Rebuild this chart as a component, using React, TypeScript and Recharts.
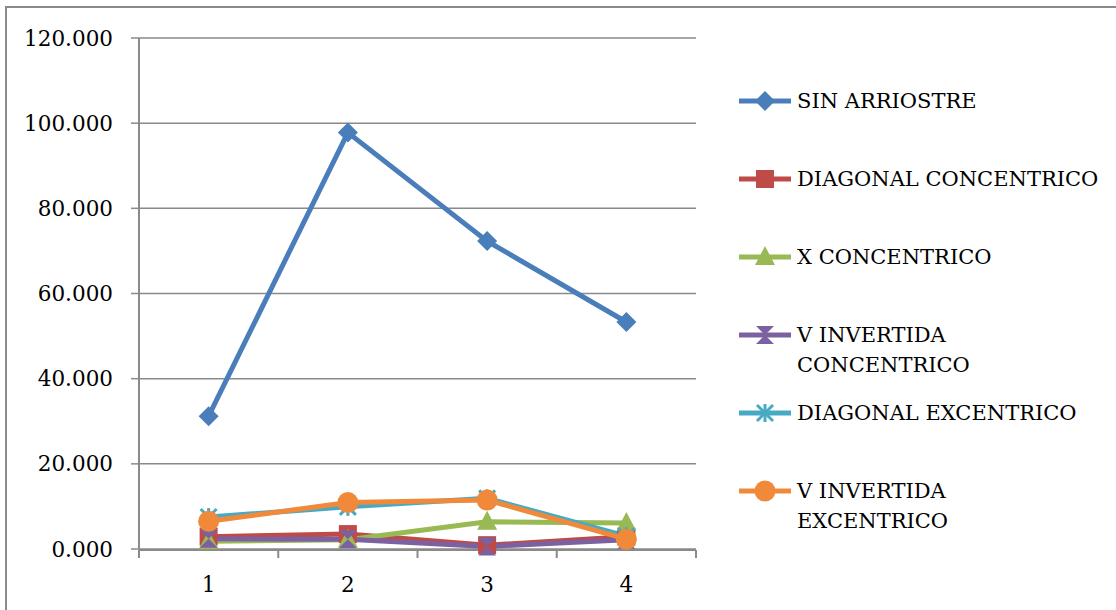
import { LineChart, Line, XAxis, YAxis, CartesianGrid } from 'recharts';

const categories = [1, 2, 3, 4];
const edgeTicks = [0.5, 1.5, 2.5, 3.5, 4.5];
const yTicks = [0, 20, 40, 60, 80, 100, 120];

const sinArriostre = [31.2, 97.8, 72.3, 53.3];
const diagonalConcentrico = [2.9, 3.5, 0.9, 2.9];
const xConcentrico = [1.8, 2.2, 6.4, 6.1];
const vInvertidaConcentrico = [2.4, 2.3, 0.6, 2.2];
const diagonalExcentrico = [7.5, 9.9, 11.9, 3.0];
const vInvertidaExcentrico = [6.5, 10.9, 11.5, 2.3];

const FONT = '"DejaVu Serif", serif';

type Marker = 'diamond' | 'square' | 'triangle' | 'bowtie' | 'star' | 'circle';

const series: { key: string; name: string; color: string; marker: Marker; values: number[] }[] = [
  { key: 'sin', name: 'SIN ARRIOSTRE', color: '#4A7EBB', marker: 'diamond', values: sinArriostre },
  { key: 'dc', name: 'DIAGONAL CONCENTRICO', color: '#BE4B48', marker: 'square', values: diagonalConcentrico },
  { key: 'xc', name: 'X CONCENTRICO', color: '#98B954', marker: 'triangle', values: xConcentrico },
  { key: 'vic', name: 'V INVERTIDA CONCENTRICO', color: '#7D60A0', marker: 'bowtie', values: vInvertidaConcentrico },
  { key: 'de', name: 'DIAGONAL EXCENTRICO', color: '#46AAC5', marker: 'star', values: diagonalExcentrico },
  { key: 'vie', name: 'V INVERTIDA EXCENTRICO', color: '#F08A3A', marker: 'circle', values: vInvertidaExcentrico },
];

const data = categories.map((c, i) => {
  const row: Record<string, number> = { x: c };
  series.forEach((s) => {
    row[s.key] = s.values[i];
  });
  return row;
});

const drawMarker = (m: Marker, cx: number, cy: number, color: string, key?: string | number) => {
  switch (m) {
    case 'diamond':
      return <polygon key={key} points={`${cx},${cy - 10} ${cx + 10},${cy} ${cx},${cy + 10} ${cx - 10},${cy}`} fill={color} />;
    case 'square':
      return <rect key={key} x={cx - 9} y={cy - 9} width={18} height={18} fill={color} />;
    case 'triangle':
      return <polygon key={key} points={`${cx},${cy - 11} ${cx + 10},${cy + 8} ${cx - 10},${cy + 8}`} fill={color} />;
    case 'bowtie':
      return (
        <polygon
          key={key}
          points={`${cx - 9},${cy - 9} ${cx + 9},${cy - 9} ${cx},${cy} ${cx + 9},${cy + 9} ${cx - 9},${cy + 9} ${cx},${cy}`}
          fill={color}
        />
      );
    case 'star':
      return (
        <g key={key} stroke={color} strokeWidth={3}>
          <line x1={cx - 8} y1={cy - 8} x2={cx + 8} y2={cy + 8} />
          <line x1={cx - 8} y1={cy + 8} x2={cx + 8} y2={cy - 8} />
          <line x1={cx} y1={cy - 9} x2={cx} y2={cy + 9} />
        </g>
      );
    default:
      return <circle key={key} cx={cx} cy={cy} r={10.5} fill={color} />;
  }
};

const ChartLegend = () => (
  <div style={{ position: 'absolute', left: 739, top: 86, width: 377, fontFamily: FONT, fontSize: 21, color: '#000' }}>
    {series.map((s) => (
      <div key={s.key} style={{ display: 'flex', alignItems: 'flex-start', height: 78 }}>
        <svg width={58} height={30} style={{ flex: 'none' }}>
          <line x1={0} y1={15} x2={52} y2={15} stroke={s.color} strokeWidth={5} />
          {drawMarker(s.marker, 26, 15, s.color)}
        </svg>
        <div style={{ width: 303, lineHeight: '30px' }}>{s.name}</div>
      </div>
    ))}
  </div>
);

export default function App() {
  return (
    <div style={{ position: 'absolute', left: 0, top: 0, width: 1116, height: 610, overflow: 'hidden', background: '#fff' }}>
      <div
        style={{
          position: 'absolute',
          left: 5,
          top: 6,
          width: 1130,
          height: 630,
          border: '2px solid #8a8a8a',
          boxSizing: 'border-box',
        }}
      />
      <LineChart
        width={1116}
        height={610}
        data={data}
        margin={{ top: 38, right: 420, bottom: 0, left: 19 }}
        style={{ position: 'absolute', left: 0, top: 0 }}
      >
        <CartesianGrid vertical={false} stroke="#8a8a8a" strokeWidth={1.5} />
        <XAxis
          dataKey="x"
          type="number"
          domain={[0.5, 4.5]}
          ticks={categories}
          axisLine={false}
          tickLine={false}
          height={1}
          tickMargin={22}
          tick={{ fill: '#000', fontFamily: FONT, fontSize: 21.5 }}
        />
        <XAxis
          xAxisId="edges"
          dataKey="x"
          type="number"
          domain={[0.5, 4.5]}
          ticks={edgeTicks}
          tickFormatter={() => ''}
          tickSize={8}
          height={60}
          axisLine={{ stroke: '#8a8a8a', strokeWidth: 2 }}
          tickLine={{ stroke: '#8a8a8a', strokeWidth: 2 }}
        />
        <YAxis
          domain={[0, 120]}
          ticks={yTicks}
          width={120}
          tickSize={8}
          tickMargin={18}
          tickFormatter={(v: number) => v.toFixed(3)}
          axisLine={{ stroke: '#8a8a8a', strokeWidth: 2 }}
          tickLine={{ stroke: '#8a8a8a', strokeWidth: 1.5 }}
          tick={{ fill: '#000', fontFamily: FONT, fontSize: 21.5 }}
        />
        {series.map((s) => (
          <Line
            key={s.key}
            dataKey={s.key}
            name={s.name}
            stroke={s.color}
            strokeWidth={5}
            isAnimationActive={false}
            dot={(p: any) => drawMarker(s.marker, p.cx, p.cy, s.color, p.index)}
            activeDot={false}
          />
        ))}
      </LineChart>
      <ChartLegend />
    </div>
  );
}
